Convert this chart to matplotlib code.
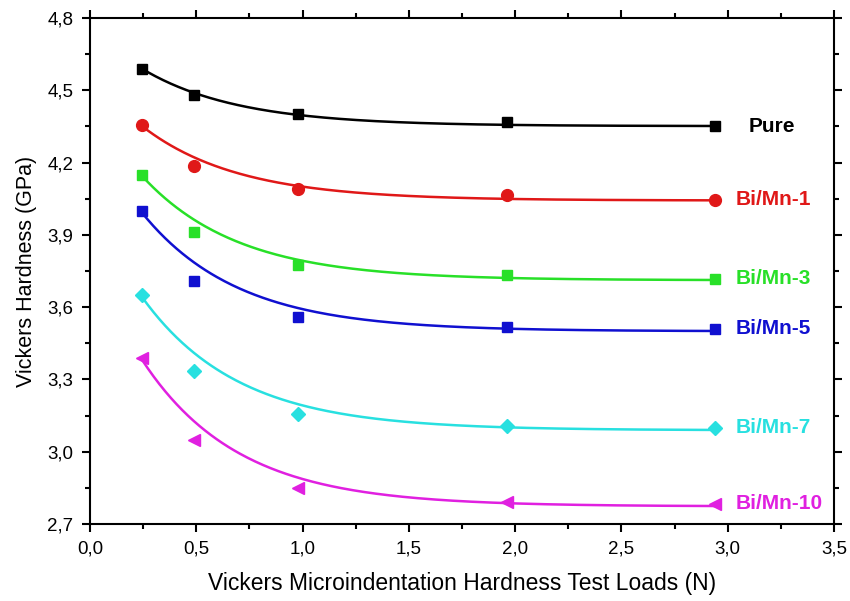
import numpy as np
import matplotlib
matplotlib.use("Agg")
import matplotlib.pyplot as plt
from matplotlib.ticker import MultipleLocator, FuncFormatter

plt.rcParams['font.family'] = ['Liberation Sans', 'DejaVu Sans']

loads = [0.245, 0.49, 0.98, 1.96, 2.94]
series_names = ["Pure", "Bi/Mn-1", "Bi/Mn-3", "Bi/Mn-5", "Bi/Mn-7", "Bi/Mn-10"]
hv_pure = [4.59, 4.48, 4.40, 4.37, 4.35]
hv_bm1 = [4.355, 4.185, 4.09, 4.065, 4.045]
hv_bm3 = [4.15, 3.91, 3.775, 3.735, 3.717]
hv_bm5 = [4.00, 3.71, 3.56, 3.518, 3.51]
hv_bm7 = [3.65, 3.335, 3.157, 3.107, 3.10]
hv_bm10 = [3.39, 3.05, 2.85, 2.79, 2.785]
all_series = [hv_pure, hv_bm1, hv_bm3, hv_bm5, hv_bm7, hv_bm10]
colors = ['#000000', '#e01818', '#28e028', '#1010d0', '#28e0e0', '#e020e0']
markers = ['s', 'o', 's', 's', 'D', '<']
msizes = [7.5, 8.5, 7.5, 7.5, 7, 8.5]

# exponential-decay fit (first-order), decay constant and point weights
fit_tau = 0.45
fit_weights = [6, 1, 1, 1, 6]


def exp_fit(x, y):
    x = np.asarray(x, float); y = np.asarray(y, float)
    w = np.sqrt(np.asarray(fit_weights, float))
    M = np.column_stack([np.ones_like(x), np.exp(-x / fit_tau)])
    coef, *_ = np.linalg.lstsq(M * w[:, None], y * w, rcond=None)
    return lambda xx: coef[0] + coef[1] * np.exp(-xx / fit_tau)


fig = plt.figure(figsize=(8.5, 6.01), dpi=100)
ax = fig.add_axes([90 / 850, 77 / 601, 744 / 850, 506 / 601])

xs = np.linspace(loads[0], loads[-1], 300)
for name, ys, c, m, ms in zip(series_names, all_series, colors, markers, msizes):
    f = exp_fit(loads, ys)
    ax.plot(xs, f(xs), color=c, lw=1.8, zorder=2)
    ax.plot(loads, ys, linestyle='none', marker=m, color=c, ms=ms, zorder=3)
    tx = loads[-1] + 0.095 if name != "Pure" else loads[-1] + 0.16
    ax.text(tx, ys[-1], name, color=c, fontsize=15, fontweight='bold',
            va='center', ha='left')

ax.set_xlim(0, 3.5)
ax.set_ylim(2.7, 4.8)
ax.xaxis.set_major_locator(MultipleLocator(0.5))
ax.xaxis.set_minor_locator(MultipleLocator(0.25))
ax.yaxis.set_major_locator(MultipleLocator(0.3))
ax.yaxis.set_minor_locator(MultipleLocator(0.15))
fmt = FuncFormatter(lambda v, p: f"{v:.1f}".replace('.', ','))
ax.xaxis.set_major_formatter(fmt)
ax.yaxis.set_major_formatter(fmt)
ax.tick_params(which='both', direction='out', top=True, right=True,
               labeltop=False, labelright=False, width=1.5, colors='black')
ax.tick_params(which='major', length=6, labelsize=13.5, pad=6)
ax.tick_params(which='minor', length=3.5)
for s in ax.spines.values():
    s.set_linewidth(1.5)

ax.set_xlabel("Vickers Microindentation Hardness Test Loads (N)", fontsize=16.5, labelpad=10)
ax.set_ylabel("Vickers Hardness (GPa)", fontsize=15.5, labelpad=7)

fig.savefig("out.png", dpi=100)
